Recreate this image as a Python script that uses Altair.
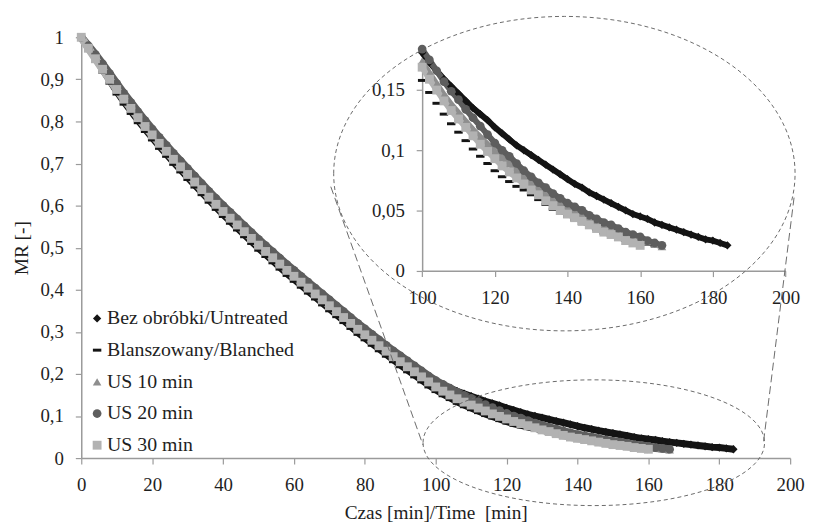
import altair as alt
import pandas as pd

# ---------------- data (MR, one value every 2 min) ----------------
series_names = ["Bez obróbki/Untreated", "Blanszowany/Blanched", "US 10 min", "US 20 min", "US 30 min"]

untreated = [
    1.000, 0.978, 0.955, 0.932, 0.908, 0.884, 0.861, 0.839, 0.817, 0.796,
    0.776, 0.756, 0.737, 0.718, 0.700, 0.682, 0.664, 0.646, 0.628, 0.611,
    0.594, 0.578, 0.562, 0.546, 0.530, 0.514, 0.499, 0.484, 0.469, 0.454,
    0.440, 0.426, 0.412, 0.398, 0.384, 0.370, 0.356, 0.342, 0.328, 0.314,
    0.301, 0.288, 0.275, 0.262, 0.249, 0.237, 0.226, 0.215, 0.203, 0.192,
    0.181, 0.173, 0.166, 0.159, 0.153, 0.147, 0.141, 0.135, 0.130, 0.125,
    0.119, 0.114, 0.109, 0.104, 0.100, 0.096, 0.092, 0.088, 0.084, 0.080,
    0.076, 0.072, 0.069, 0.065, 0.062, 0.059, 0.056, 0.053, 0.050, 0.047,
    0.045, 0.043, 0.040, 0.038, 0.036, 0.034, 0.032, 0.030, 0.028, 0.026,
    0.025, 0.023, 0.021]

blanched = [
    1.000, 0.972, 0.944, 0.917, 0.891, 0.865, 0.841, 0.819, 0.797, 0.776,
    0.756, 0.736, 0.717, 0.698, 0.680, 0.662, 0.644, 0.626, 0.608, 0.591,
    0.574, 0.558, 0.542, 0.526, 0.510, 0.494, 0.479, 0.464, 0.449, 0.434,
    0.420, 0.406, 0.392, 0.378, 0.364, 0.350, 0.336, 0.322, 0.308, 0.294,
    0.281, 0.268, 0.255, 0.242, 0.229, 0.217, 0.205, 0.193, 0.181, 0.169,
    0.158, 0.148, 0.139, 0.130, 0.122, 0.115, 0.108, 0.101, 0.095, 0.089,
    0.083, 0.078, 0.074, 0.070, 0.067, 0.063, 0.059, 0.055, 0.051, 0.048,
    0.045, 0.042, 0.039, 0.036, 0.034, 0.031, 0.029, 0.027, 0.025, 0.024,
    0.023, 0.022, 0.021]

us10 = [
    1.000, 0.976, 0.952, 0.928, 0.904, 0.880, 0.857, 0.835, 0.813, 0.792,
    0.772, 0.752, 0.733, 0.714, 0.696, 0.678, 0.660, 0.642, 0.624, 0.607,
    0.590, 0.574, 0.558, 0.542, 0.526, 0.510, 0.495, 0.480, 0.465, 0.450,
    0.436, 0.422, 0.408, 0.394, 0.380, 0.366, 0.352, 0.338, 0.324, 0.310,
    0.297, 0.284, 0.271, 0.258, 0.245, 0.233, 0.221, 0.209, 0.197, 0.185,
    0.174, 0.164, 0.155, 0.146, 0.138, 0.131, 0.124, 0.117, 0.111, 0.105,
    0.099, 0.094, 0.089, 0.083, 0.078, 0.073, 0.068, 0.064, 0.060, 0.056,
    0.052, 0.049, 0.046, 0.043, 0.040, 0.037, 0.035, 0.032, 0.030, 0.028,
    0.026, 0.024, 0.022, 0.020]

us20 = [
    1.000, 0.980, 0.959, 0.937, 0.914, 0.890, 0.867, 0.845, 0.823, 0.802,
    0.782, 0.762, 0.743, 0.724, 0.706, 0.688, 0.670, 0.652, 0.634, 0.617,
    0.600, 0.584, 0.568, 0.552, 0.536, 0.520, 0.505, 0.490, 0.475, 0.460,
    0.446, 0.432, 0.418, 0.404, 0.390, 0.376, 0.362, 0.348, 0.334, 0.320,
    0.307, 0.294, 0.281, 0.268, 0.255, 0.243, 0.231, 0.219, 0.207, 0.195,
    0.184, 0.175, 0.166, 0.157, 0.149, 0.142, 0.134, 0.127, 0.120, 0.113,
    0.106, 0.100, 0.095, 0.089, 0.083, 0.078, 0.073, 0.069, 0.064, 0.060,
    0.056, 0.053, 0.050, 0.046, 0.043, 0.040, 0.038, 0.035, 0.032, 0.030,
    0.028, 0.025, 0.023, 0.021]

us30 = [
    1.000, 0.974, 0.949, 0.924, 0.900, 0.876, 0.853, 0.831, 0.809, 0.788,
    0.768, 0.748, 0.729, 0.710, 0.692, 0.674, 0.656, 0.638, 0.620, 0.603,
    0.586, 0.570, 0.554, 0.538, 0.522, 0.506, 0.491, 0.476, 0.461, 0.446,
    0.432, 0.418, 0.404, 0.390, 0.376, 0.362, 0.348, 0.334, 0.320, 0.306,
    0.293, 0.280, 0.267, 0.254, 0.241, 0.229, 0.217, 0.205, 0.193, 0.181,
    0.169, 0.159, 0.150, 0.141, 0.133, 0.126, 0.119, 0.112, 0.105, 0.099,
    0.093, 0.087, 0.082, 0.077, 0.072, 0.067, 0.063, 0.058, 0.054, 0.050,
    0.047, 0.044, 0.041, 0.038, 0.035, 0.032, 0.030, 0.028, 0.025, 0.023,
    0.021]

time_step = 2
x_ticks = [0, 20, 40, 60, 80, 100, 120, 140, 160, 180, 200]
y_ticks = [0, 0.1, 0.2, 0.3, 0.4, 0.5, 0.6, 0.7, 0.8, 0.9, 1]
inset_x_ticks = [100, 120, 140, 160, 180, 200]
inset_y_ticks = [0, 0.05, 0.1, 0.15]

# ---------------- table ----------------
all_series = [untreated, blanched, us10, us20, us30]
frames = {}
rows = []
for name, vals in zip(series_names, all_series):
    part = [{"t": i * time_step, "mr": v, "series": name} for i, v in enumerate(vals)]
    frames[name] = pd.DataFrame(part)
    rows.extend(part)
df = pd.DataFrame(rows)
df_inset = df[df["t"] >= 100].reset_index(drop=True)

DASH = "M-1,-0.35L1,-0.35L1,0.35L-1,0.35Z"
colors = ["#141414", "#141414", "#8e8e8e", "#5e5e5e", "#b2b2b2"]
shapes = ["diamond", DASH, "triangle-up", "circle", "square"]
sizes = [70, 80, 62, 58, 46]
band_main = [7, 4, 8, 8, 8]
band_inset = [6, 0, 6, 6, 6]

FONT = "Liberation Serif"
TXT = "#1e1e1e"
AX = "#9a9a9a"

label_expr = "replace(format(datum.value, '~g'), '.', ',')"

legend = alt.Legend(
    title=None, orient="none", legendX=6, legendY=274, padding=0,
    labelFont=FONT, labelFontSize=20, labelColor=TXT, labelOffset=0, labelLimit=0,
    symbolSize=20, rowPadding=12, symbolStrokeWidth=0,
)
color_enc = alt.Color("series:N", scale=alt.Scale(domain=series_names, range=colors), legend=legend)
shape_enc = alt.Shape("series:N", scale=alt.Scale(domain=series_names, range=shapes), legend=legend)
size_enc = alt.Size("series:N", scale=alt.Scale(domain=series_names, range=sizes), legend=None)

W, H = 716, 425
x_scale = alt.Scale(domain=[0, 200], nice=False, zero=False)
y_scale = alt.Scale(domain=[0, 1], nice=False, zero=False)
x_axis = alt.Axis(values=x_ticks, title="Czas [min]/Time\u00a0 [min]", grid=False, labelFlush=False,
                  labelOverlap=False, tickSize=6, labelPadding=12, titlePadding=9)
y_axis = alt.Axis(values=y_ticks, title="MR [-]", grid=False, labelExpr=label_expr, labelFlush=False,
                  labelOverlap=False, tickSize=6, labelPadding=12, titlePadding=9)

main_points = alt.Chart(df).mark_point(filled=True, opacity=1, strokeWidth=0).encode(
    x=alt.X("t:Q", scale=x_scale, axis=x_axis),
    y=alt.Y("mr:Q", scale=y_scale, axis=y_axis),
    color=color_enc, shape=shape_enc, size=size_enc,
)

# continuous band under each series' markers (main plot)
main_bands = [
    alt.Chart(frames[n]).mark_line(color=c, strokeWidth=w, opacity=1).encode(
        x=alt.X("t:Q", scale=x_scale, axis=x_axis),
        y=alt.Y("mr:Q", scale=y_scale, axis=y_axis),
    )
    for n, c, w in zip(series_names, colors, band_main)
]

# annotation: dashed ellipses and connecting lines (in main-plot data units)
ell_big = pd.DataFrame({"t": [136.3], "mr": [0.676]})
ell_small = pd.DataFrame({"t": [144.6], "mr": [0.0365]})
BIG_PATH = ("M-1,0 C-1,-0.3764 -0.5523,-0.6815 0,-0.6815 C0.5523,-0.6815 1,-0.3764 1,0 "
            "C1,0.3764 0.5523,0.6815 0,0.6815 C-0.5523,0.6815 -1,0.3764 -1,0 Z")
SMALL_PATH = ("M-1,0 C-1,-0.2033 -0.5523,-0.3681 0,-0.3681 C0.5523,-0.3681 1,-0.2033 1,0 "
              "C1,0.2033 0.5523,0.3681 0,0.3681 C-0.5523,0.3681 -1,0.2033 -1,0 Z")


def ellipse(d, path, size):
    return alt.Chart(d).mark_point(shape=path, filled=False, stroke="#6a6a6a", strokeWidth=1,
                                   strokeDash=[4, 3], opacity=1, size=size).encode(
        x=alt.X("t:Q", scale=x_scale, axis=x_axis),
        y=alt.Y("mr:Q", scale=y_scale, axis=y_axis),
    )


ell1 = ellipse(ell_big, BIG_PATH, 466 * 466)
ell2 = ellipse(ell_small, SMALL_PATH, 345 * 345)

links = pd.DataFrame({"t": [70.4, 201.1], "mr": [0.645, 0.619],
                      "t2": [96.4, 192.5], "mr2": [0.0313, 0.0393]})
link_rules = alt.Chart(links).mark_rule(color="#6a6a6a", strokeWidth=1, strokeDash=[8, 4]).encode(
    x=alt.X("t:Q", scale=x_scale, axis=x_axis),
    y=alt.Y("mr:Q", scale=y_scale, axis=y_axis),
    x2="t2:Q", y2="mr2:Q",
)

main = alt.layer(*main_bands, main_points, link_rules, ell1, ell2)

# inset (zoomed) panel, placed with its own scales
ix_scale = alt.Scale(domain=[100, 200], range=[344.3, 711.3], nice=False, zero=False)
iy_scale = alt.Scale(domain=[0, 0.18], range=[235.7, 16.8], nice=False, zero=False)
ix_axis = alt.Axis(orient="bottom", offset=-189.3, values=inset_x_ticks, title=None, grid=False,
                   labelFlush=False, labelOverlap=False, tickSize=6, labelPadding=12)
iy_axis = alt.Axis(orient="left", offset=-344.3, values=inset_y_ticks, title=None, grid=False,
                   labelExpr=label_expr, labelFlush=False, labelOverlap=False, tickSize=6, labelPadding=12)

inset_bands = [
    alt.Chart(frames[n][frames[n]["t"] >= 100]).mark_line(color=c, strokeWidth=w, opacity=1).encode(
        x=alt.X("t:Q", scale=ix_scale, axis=ix_axis),
        y=alt.Y("mr:Q", scale=iy_scale, axis=iy_axis),
    )
    for n, c, w in zip(series_names, colors, band_inset) if w > 0
]
inset_points = alt.Chart(df_inset).mark_point(filled=True, opacity=1, strokeWidth=0).encode(
    x=alt.X("t:Q", scale=ix_scale, axis=ix_axis),
    y=alt.Y("mr:Q", scale=iy_scale, axis=iy_axis),
    color=color_enc, shape=shape_enc, size=size_enc,
)
inset = alt.layer(*inset_bands, inset_points)

chart = alt.layer(main, inset).resolve_scale(x="independent", y="independent").properties(
    width=W, height=H,
    padding={"left": 74, "top": 27, "right": 16, "bottom": 65},
    autosize=alt.AutoSizeParams(type="none"),
    background="white",
).configure_view(stroke=None).configure_axis(
    labelFont=FONT, labelFontSize=19, labelColor=TXT,
    titleFont=FONT, titleFontSize=19.5, titleColor=TXT, titleFontWeight="normal",
    domainColor=AX, tickColor=AX, domainWidth=1.5, tickWidth=1.2,
)

chart.save("out.html", embed_options={"renderer": "svg", "actions": False})
